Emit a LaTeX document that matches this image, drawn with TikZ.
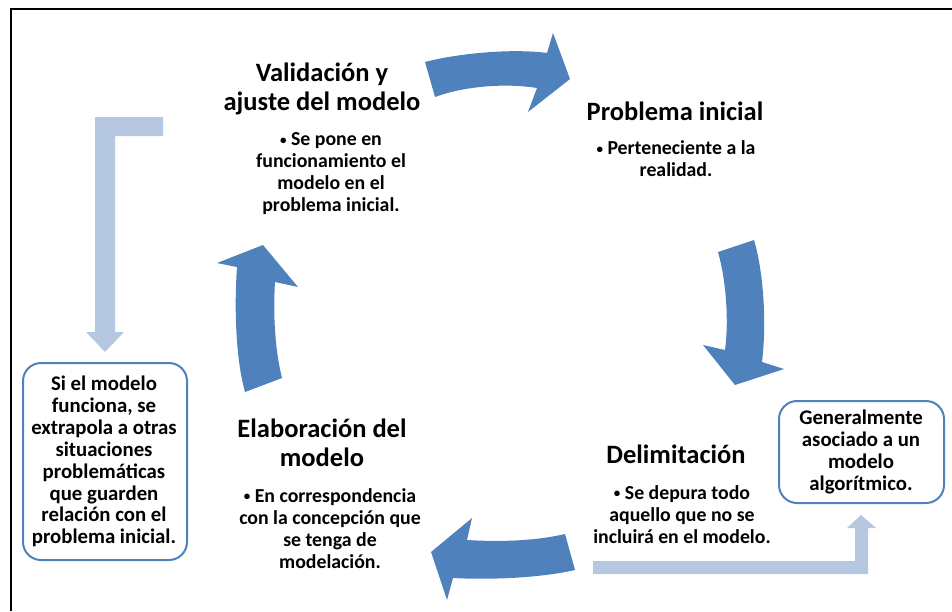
\documentclass[tikz,border=0pt]{standalone}
\usepackage{fontspec}
\setmainfont{Carlito}
\definecolor{arrowblue}{RGB}{79,129,189}
\definecolor{lightblue}{RGB}{182,199,226}
\definecolor{boxblue}{RGB}{79,129,189}
\newcommand{\smbul}{\raisebox{0.15ex}{\fontsize{13}{13}\selectfont•}}
\begin{document}
\begin{tikzpicture}[x=1pt,y=-1pt,
  titletext/.style={inner sep=0pt,align=center,font=\bfseries\fontsize{26.5}{29}\selectfont},
  bodytext/.style={inner sep=0pt,align=center,font=\bfseries\fontsize{19.8}{22}\selectfont},
  boxtext/.style={inner sep=0pt,align=center,font=\bfseries\fontsize{20.8}{21.9}\selectfont},
  curvearrow/.style={fill=arrowblue,draw=none},
  lightarrow/.style={fill=lightblue,draw=none},
  notebox/.style={draw=boxblue,line width=2pt,rounded corners=18pt,fill=white}]
\useasboundingbox (0,0) rectangle (952,611);
\fill[white] (0,0) rectangle (952,611);
% frame
\draw[line width=2pt,black] (10.5,611) -- (10.5,8.5) -- (952,8.5);

% curved arrows
\path[curvearrow] (425,62) .. controls (455,54) and (510,48) .. (547,53)
  -- (553,33) -- (570,79) -- (528,112) -- (537,88)
  .. controls (505,83) and (465,86) .. (435,97) -- cycle;
\path[curvearrow] (754,240) .. controls (763,270) and (767,320) .. (762,362)
  -- (784,369) -- (735,385) -- (703,345) -- (725,350)
  .. controls (729,320) and (726,280) .. (718,252) -- cycle;
\path[curvearrow] (575,570) .. controls (540,578) and (490,580) .. (453,578)
  -- (447,600) -- (431,552) -- (472,518) -- (467,540)
  .. controls (500,542) and (535,541) .. (565,534) -- cycle;
\path[curvearrow] (245,392) .. controls (236,360) and (234,310) .. (237,267)
  -- (217,263) -- (263,245) -- (298,287) -- (275,282)
  .. controls (273,315) and (275,350) .. (282,378) -- cycle;

% light L-shaped arrows
\path[lightarrow] (163,117) -- (95,117) -- (95,332) -- (86,332) -- (105,352)
  -- (124,332) -- (115,332) -- (115,136) -- (163,136) -- cycle;
\path[lightarrow] (593,561) -- (855,561) -- (855,528) -- (847,528) -- (861,515)
  -- (876,528) -- (868,528) -- (868,574) -- (593,574) -- cycle;

% boxes
\node[notebox,minimum width=164pt,minimum height=197pt] (leftbox) at (105,461.5) {};
\node[notebox,minimum width=165pt,minimum height=102pt] (rightbox) at (861.5,452) {};

% texts
\node[titletext] (valT) at (322,88.5) {Validación y\\ajuste del modelo};
\node[bodytext] (valB) at (331,174) {\smbul{} Se pone en\\funcionamiento el\\modelo en el\\problema inicial.};
\node[titletext] (probT) at (675,111) {Problema inicial};
\node[bodytext] (probB) at (676,159) {\smbul{} Perteneciente a la\\realidad.};
\node[titletext] (delT) at (676,454) {Delimitación};
\node[bodytext] (delB) at (682,514.5) {\smbul{} Se depura todo\\aquello que no se\\incluirá en el modelo.};
\node[titletext] (elabT) at (322,442.5) {Elaboración del\\modelo};
\node[bodytext] (elabB) at (330,528.5) {\smbul{} En correspondencia\\con la concepción que\\se tenga de\\modelación.};
\node[boxtext] (leftT) at (104,461.5) {Si el modelo\\funciona, se\\extrapola a otras\\situaciones\\problemáticas\\que guarden\\relación con el\\problema inicial.};
\node[boxtext] (rightT) at (861,452) {Generalmente\\asociado a un\\modelo\\algorítmico.};
\end{tikzpicture}
\end{document}
